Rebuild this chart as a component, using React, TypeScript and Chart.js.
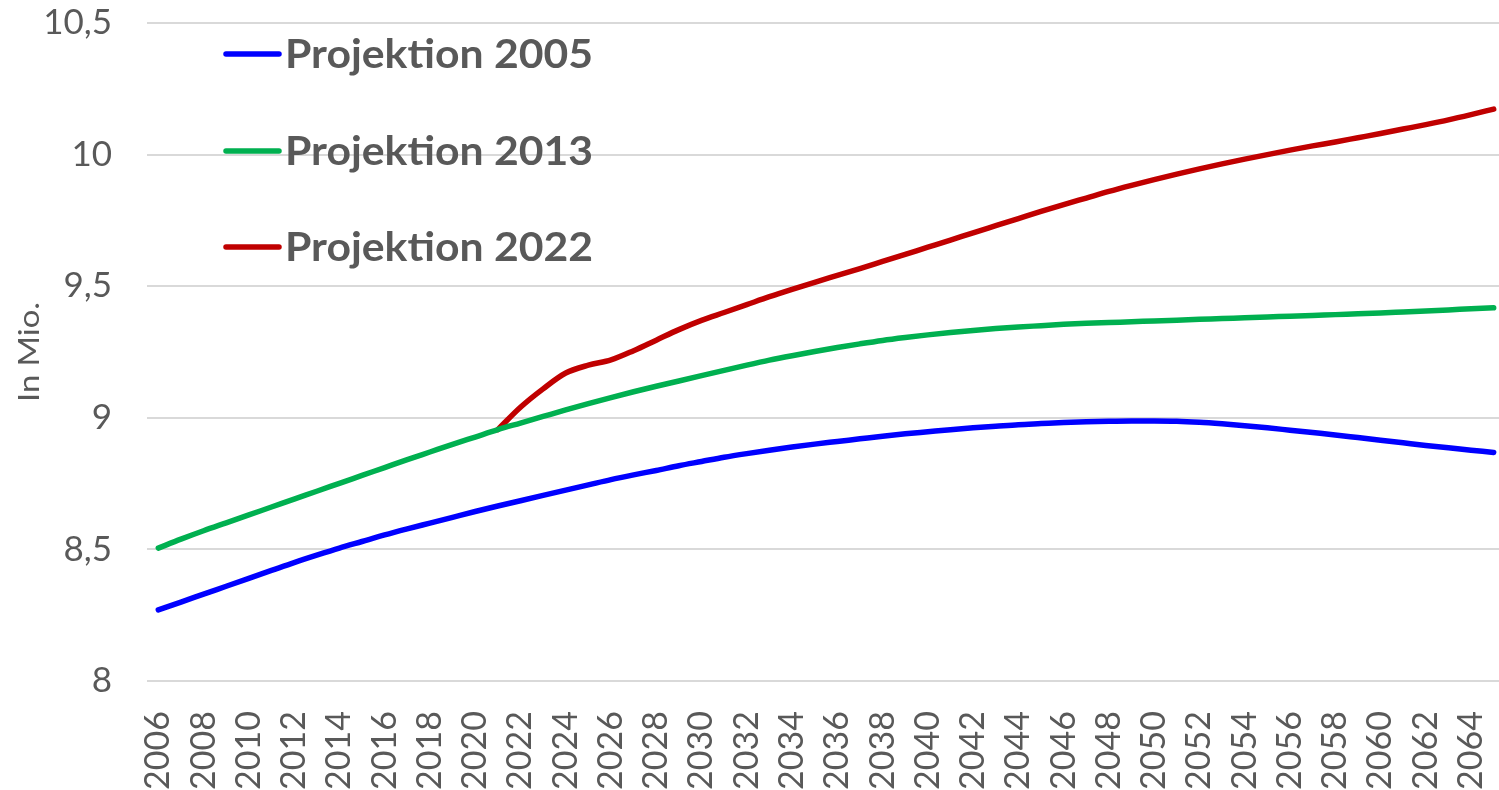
import React, { useEffect, useRef } from "react";
import { Chart, registerables } from "chart.js";

Chart.register(...registerables);

const years: string[] = [];
for (let y = 2006; y <= 2065; y++) years.push(String(y));

const seriesNames = ["Projektion 2005", "Projektion 2013", "Projektion 2022"];
const seriesColors = ["#0000FF", "#00B050", "#C00000"];

const proj2005 = [
  8.27, 8.3, 8.33, 8.36, 8.39, 8.42, 8.45, 8.478, 8.505, 8.53,
  8.555, 8.578, 8.6, 8.622, 8.644, 8.665, 8.685, 8.705, 8.725, 8.745,
  8.765, 8.783, 8.8, 8.818, 8.834, 8.85, 8.864, 8.877, 8.889, 8.9,
  8.91, 8.92, 8.93, 8.939, 8.947, 8.955, 8.962, 8.968, 8.974, 8.978,
  8.982, 8.985, 8.987, 8.988, 8.988, 8.987, 8.983, 8.977, 8.97, 8.962,
  8.953, 8.944, 8.935, 8.925, 8.915, 8.905, 8.895, 8.886, 8.877, 8.868,
];

const proj2013 = [
  8.505, 8.539, 8.571, 8.601, 8.631, 8.661, 8.691, 8.721, 8.751, 8.781,
  8.811, 8.841, 8.87, 8.899, 8.927, 8.955, 8.98, 9.005, 9.03, 9.054,
  9.077, 9.099, 9.12, 9.14, 9.16, 9.18, 9.2, 9.219, 9.236, 9.252,
  9.267, 9.281, 9.294, 9.305, 9.315, 9.324, 9.332, 9.339, 9.345, 9.35,
  9.355, 9.359, 9.362, 9.365, 9.368, 9.371, 9.374, 9.377, 9.38, 9.383,
  9.386, 9.389, 9.392, 9.395, 9.398, 9.402, 9.406, 9.41, 9.414, 9.418,
];

const proj2022: (number | null)[] = [
  null, null, null, null, null, null, null, null, null, null,
  null, null, null, null, null, 8.955, 9.04, 9.11, 9.17, 9.2,
  9.22, 9.255, 9.295, 9.335, 9.37, 9.4, 9.43, 9.46, 9.488, 9.515,
  9.541, 9.567, 9.594, 9.621, 9.648, 9.675, 9.703, 9.73, 9.757, 9.784,
  9.81, 9.835, 9.86, 9.883, 9.905, 9.926, 9.946, 9.965, 9.983, 10.0,
  10.017, 10.033, 10.048, 10.064, 10.08, 10.097, 10.114, 10.132, 10.152, 10.173,
];

const yTickValues = [8, 8.5, 9, 9.5, 10, 10.5];
const yTitle = "In Mio.";

const TEXT = "#595959";
const FONT = "Lato, 'Noto Sans', sans-serif";

const legendPlugin = {
  id: "inlineLegend",
  afterDraw(chart: any) {
    const ctx = chart.ctx;
    const rows = [54, 151, 247];
    seriesNames.forEach((name, i) => {
      const y = rows[i];
      ctx.save();
      ctx.strokeStyle = seriesColors[i];
      ctx.lineWidth = 5.5;
      ctx.lineCap = "round";
      ctx.beginPath();
      ctx.moveTo(226, y);
      ctx.lineTo(279, y);
      ctx.stroke();
      ctx.fillStyle = TEXT;
      ctx.font = "bold 41px " + FONT;
      ctx.textBaseline = "alphabetic";
      ctx.textAlign = "left";
      const w = ctx.measureText(name).width;
      ctx.translate(285, y + 14);
      ctx.scale(308 / w, 1);
      ctx.fillText(name, 0, 0);
      ctx.restore();
    });
    // y axis title
    ctx.save();
    ctx.fillStyle = TEXT;
    ctx.font = "28px " + FONT;
    ctx.textAlign = "center";
    ctx.textBaseline = "middle";
    const tw = ctx.measureText(yTitle).width;
    ctx.translate(30, 352);
    ctx.rotate(-Math.PI / 2);
    ctx.scale(100 / tw, 1);
    ctx.fillText(yTitle, 0, 0);
    ctx.restore();
  },
};

export default function App() {
  const ref = useRef<HTMLCanvasElement | null>(null);
  useEffect(() => {
    document.body.style.margin = "0";
    document.body.style.overflow = "hidden";
    const chart = new Chart(ref.current!, {
      type: "line",
      data: {
        labels: years,
        datasets: [proj2005, proj2013, proj2022].map((d, i) => ({
          label: seriesNames[i],
          data: d,
          borderColor: seriesColors[i],
          backgroundColor: seriesColors[i],
          borderWidth: 5.5,
          borderCapStyle: "round" as const,
          borderJoinStyle: "round" as const,
          pointRadius: 0,
          cubicInterpolationMode: "monotone" as const,
          spanGaps: false,
        })),
      },
      options: {
        animation: false,
        responsive: true,
        maintainAspectRatio: false,
        layout: { padding: { top: 23, right: 5, left: 0, bottom: 0 } },
        plugins: { legend: { display: false }, tooltip: { enabled: false } },
        scales: {
          x: {
            offset: true,
            grid: { display: false },
            border: { display: false },
            ticks: {
              autoSkip: false,
              minRotation: 90,
              maxRotation: 90,
              padding: 22,
              color: TEXT,
              font: { family: FONT, size: 34 },
              callback: (_v: any, idx: number) => (idx % 2 === 0 ? years[idx] : ""),
            },
            afterFit: (s: any) => {
              s.height = 109;
              s.paddingLeft = 0;
              s.paddingRight = 0;
            },
          },
          y: {
            min: 8,
            max: 10.5,
            afterBuildTicks: (s: any) => {
              s.ticks = yTickValues.map((v) => ({ value: v }));
            },
            grid: { color: "#D9D9D9", lineWidth: 2, drawTicks: false },
            border: { display: false },
            ticks: {
              padding: 35,
              color: TEXT,
              font: { family: FONT, size: 35 },
              callback: (v: any) => String(v).replace(".", ","),
            },
            afterFit: (s: any) => {
              s.width = 147;
              s.paddingTop = 0;
              s.paddingBottom = 0;
            },
          },
        },
      },
      plugins: [legendPlugin],
    });
    return () => chart.destroy();
  }, []);
  return (
    <div style={{ position: "relative", width: 1510, height: 790 }}>
      <canvas ref={ref} />
    </div>
  );
}
